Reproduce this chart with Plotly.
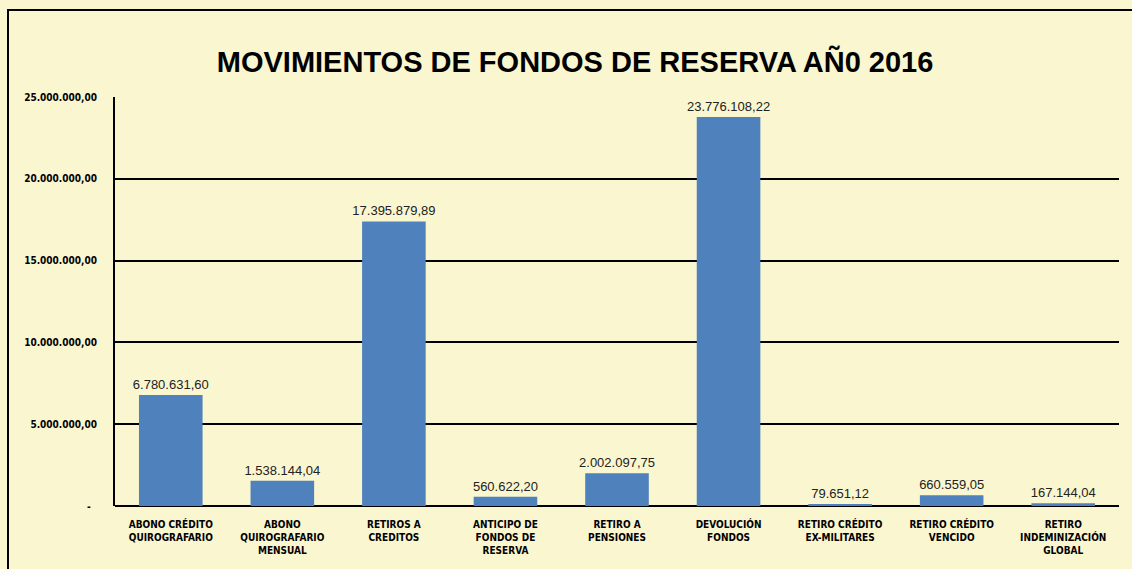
import plotly.graph_objects as go

categories = [
    "ABONO CRÉDITO<br>QUIROGRAFARIO",
    "ABONO<br>QUIROGRAFARIO<br>MENSUAL",
    "RETIROS A<br>CREDITOS",
    "ANTICIPO DE<br>FONDOS DE<br>RESERVA",
    "RETIRO A<br>PENSIONES",
    "DEVOLUCIÓN<br>FONDOS",
    "RETIRO CRÉDITO<br>EX-MILITARES",
    "RETIRO CRÉDITO<br>VENCIDO",
    "RETIRO<br>INDEMINIZACIÓN<br>GLOBAL",
]
values = [6780631.60, 1538144.04, 17395879.89, 560622.20, 2002097.75,
          23776108.22, 79651.12, 660559.05, 167144.04]
tick_vals = [0, 5000000, 10000000, 15000000, 20000000, 25000000]
tick_text = ["-\u00a0\u00a0", "5.000.000,00", "10.000.000,00", "15.000.000,00",
             "20.000.000,00", "25.000.000,00"]

narrow = "DejaVu Sans Condensed, Liberation Sans Narrow, Arial Narrow, Liberation Sans, Arial, sans-serif"
bg = "#FAF6D0"

fig = go.Figure(go.Bar(
    x=categories, y=values,
    marker=dict(color="#4F81BD", line=dict(width=0)),
    texttemplate="%{y:,.2f}", textposition="outside", constraintext="none",
    textfont=dict(family="Liberation Sans, Arial, sans-serif", size=13, color="#222222"),
    cliponaxis=False,
))

fig.update_layout(
    width=1132, height=569,
    separators=",.",
    paper_bgcolor=bg, plot_bgcolor=bg,
    margin=dict(l=115, r=13, t=97, b=63, autoexpand=False),
    bargap=0.43,
    showlegend=False,
    title=dict(text="<b>MOVIMIENTOS DE FONDOS DE RESERVA AÑ0 2016</b>",
               x=0.508, xanchor="center", y=1 - 62 / 569, yanchor="middle",
               font=dict(family="Liberation Sans, Arial, sans-serif", size=29, color="#000000")),
    xaxis=dict(
        tickfont=dict(family=narrow, size=10, color="#000000", weight="bold"),
        showgrid=False, showline=False, ticks="", ticklabelstandoff=11, automargin=False,
    ),
    yaxis=dict(
        range=[0, 25000000], tickvals=tick_vals, ticktext=tick_text,
        tickfont=dict(family=narrow, size=10, color="#000000", weight="bold"),
        showgrid=True, gridcolor="#000000", gridwidth=2,
        zeroline=True, zerolinecolor="#000000", zerolinewidth=2,
        showline=True, linecolor="#000000", linewidth=2,
        ticks="", ticklabelstandoff=14, automargin=False,
    ),
    shapes=[dict(type="rect", xref="paper", yref="paper",
                 x0=-107 / 1004, x1=1.05, y0=-0.2, y1=(569 - 10 - 63) / 409,
                 line=dict(color="#000000", width=2), fillcolor="rgba(0,0,0,0)", layer="below")],
)

fig.write_html(
    "out.html",
    config={"displayModeBar": False},
    post_script="document.body.style.margin='0';document.body.style.background='#FAF6D0';"
                "document.body.style.overflow='hidden';",
)
